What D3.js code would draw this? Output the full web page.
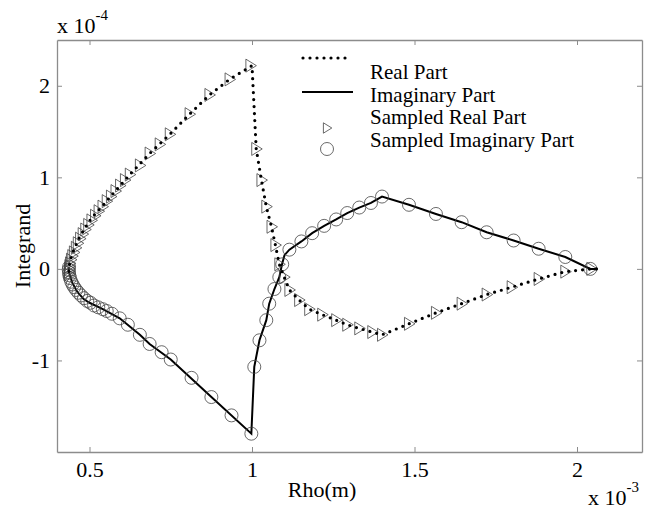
<!DOCTYPE html>
<html>
<head>
<meta charset="utf-8">
<script src="https://cdn.jsdelivr.net/npm/d3@7"></script>
<style>
  body { margin: 0; background: #fff; }
  svg text { font-family: "Liberation Serif", "Times New Roman", serif; fill: #000; }
</style>
</head>
<body>
<div id="chart"></div>
<script>
// Rho in units of 1e-3 m, integrand in units of 1e-4

// Real part (dotted line), vertices
const realRho = [2.06, 2.044, 1.964, 1.882, 1.799, 1.722, 1.645, 1.566, 1.483, 1.40,
  1.37, 1.33, 1.293, 1.259, 1.216, 1.176, 1.145, 1.115, 1.099, 1.084, 1.072, 1.06,
  1.044, 1.029, 1.013, 1.0, 0.931, 0.869, 0.808, 0.747, 0.685, 0.624, 0.572, 0.538,
  0.505, 0.485, 0.467, 0.452, 0.441, 0.436, 0.437];
const realVal = [0.0, 0.0, -0.03, -0.11, -0.20, -0.28, -0.38, -0.48, -0.60, -0.72,
  -0.69, -0.65, -0.61, -0.56, -0.50, -0.44, -0.34, -0.23, -0.09, 0.05, 0.26, 0.46,
  0.68, 0.97, 1.31, 2.22, 2.07, 1.90, 1.69, 1.47, 1.26, 1.03, 0.82, 0.68,
  0.55, 0.44, 0.33, 0.21, 0.10, 0.0, -0.05];

// Imaginary part (solid line)
const imagRho = [2.06, 2.041, 1.964, 1.882, 1.805, 1.722, 1.645, 1.566, 1.483, 1.40,
  1.366, 1.33, 1.293, 1.259, 1.222, 1.185, 1.152, 1.115, 1.10, 1.093, 1.084, 1.069,
  1.053, 1.044, 1.023, 1.007, 0.998, 0.875, 0.75, 0.685, 0.655, 0.593, 0.541, 0.50,
  0.482, 0.462, 0.447, 0.438, 0.436];
const imagVal = [0.0, 0.0, 0.13, 0.22, 0.31, 0.40, 0.51, 0.60, 0.70, 0.79,
  0.72, 0.67, 0.61, 0.54, 0.47, 0.39, 0.30, 0.21, 0.15, 0.06, -0.09, -0.22,
  -0.38, -0.56, -0.78, -1.07, -1.80, -1.40, -0.99, -0.82, -0.72, -0.54, -0.44, -0.37,
  -0.33, -0.25, -0.15, -0.05, 0.02];

// Sampled real part (triangles)
const sampRealRho = [2.044, 1.964, 1.882, 1.799, 1.722, 1.645, 1.566, 1.483, 1.40, 1.37,
  1.33, 1.293, 1.259, 1.216, 1.176, 1.145, 1.115, 1.099, 1.084, 1.072, 1.06, 1.044,
  1.029, 1.013, 0.995, 0.931, 0.869, 0.808, 0.747, 0.716, 0.685, 0.655, 0.624, 0.609,
  0.594, 0.580, 0.566, 0.553, 0.540, 0.528, 0.517, 0.506, 0.496, 0.487, 0.479, 0.471,
  0.464, 0.458, 0.452, 0.447, 0.443, 0.440, 0.438, 0.437, 0.436, 0.437];
const sampRealVal = [0.0, -0.03, -0.11, -0.20, -0.28, -0.38, -0.48, -0.60, -0.72, -0.69,
  -0.65, -0.61, -0.56, -0.50, -0.44, -0.34, -0.23, -0.09, 0.05, 0.26, 0.46, 0.68,
  0.97, 1.31, 2.22, 2.07, 1.90, 1.69, 1.47, 1.36, 1.26, 1.13, 1.03, 0.97,
  0.91, 0.85, 0.79, 0.74, 0.68, 0.63, 0.58, 0.53, 0.48, 0.43, 0.38, 0.33,
  0.28, 0.23, 0.18, 0.14, 0.10, 0.06, 0.03, 0.0, -0.03, -0.06];

// Sampled imaginary part (circles)
const sampImagRho = [2.041, 1.964, 1.882, 1.805, 1.722, 1.645, 1.566, 1.483, 1.40, 1.366,
  1.33, 1.293, 1.259, 1.222, 1.185, 1.152, 1.115, 1.093, 1.084, 1.069, 1.053, 1.044,
  1.023, 1.007, 0.998, 0.937, 0.875, 0.814, 0.750, 0.722, 0.685, 0.655, 0.618, 0.593,
  0.569, 0.553, 0.541, 0.527, 0.514, 0.503, 0.493, 0.483, 0.474, 0.466, 0.459, 0.453,
  0.448, 0.444, 0.440, 0.438, 0.437, 0.436, 0.437];
const sampImagVal = [0.0, 0.13, 0.22, 0.31, 0.40, 0.51, 0.60, 0.70, 0.79, 0.72,
  0.67, 0.61, 0.54, 0.47, 0.39, 0.30, 0.21, 0.05, -0.09, -0.22, -0.38, -0.56,
  -0.78, -1.07, -1.80, -1.60, -1.40, -1.19, -0.99, -0.91, -0.82, -0.72, -0.61, -0.54,
  -0.49, -0.46, -0.44, -0.42, -0.40, -0.37, -0.35, -0.32, -0.29, -0.26, -0.23, -0.20,
  -0.17, -0.14, -0.10, -0.07, -0.04, -0.01, 0.02];

const xTicks = [0.5, 1, 1.5, 2];
const yTicks = [-1, 0, 1, 2];
const legendLabels = ["Real Part", "Imaginary Part", "Sampled Real Part", "Sampled Imaginary Part"];

const width = 649, height = 509;
const margin = {top: 40, right: 7, bottom: 57, left: 57};
const fs = 22;

const x = d3.scaleLinear().domain([0.4, 2.2]).range([margin.left, width - margin.right]);
const y = d3.scaleLinear().domain([-2, 2.5]).range([height - margin.bottom, margin.top]);

const svg = d3.select("#chart").append("svg")
  .attr("width", width)
  .attr("height", height);

const axisColor = "#8c8c8c";

// axes (ticks pointing inward, MATLAB style)
function styleAxis(g) {
  g.select(".domain").attr("stroke", axisColor).attr("stroke-width", 1.3);
  g.selectAll(".tick line").attr("stroke", axisColor);
  g.selectAll(".tick text").attr("font-size", fs).attr("font-family", "Liberation Serif").attr("fill", "#000");
}
const fmt = d => String(d);

svg.append("g")
  .attr("transform", `translate(0,${y(-2)})`)
  .call(d3.axisBottom(x).tickValues(xTicks).tickFormat(fmt).tickSize(-5).tickSizeOuter(0).tickPadding(9))
  .call(styleAxis);
svg.append("g")
  .attr("transform", `translate(0,${y(2.5)})`)
  .call(d3.axisTop(x).tickValues(xTicks).tickFormat("").tickSize(-5).tickSizeOuter(0))
  .call(styleAxis);
svg.append("g")
  .attr("transform", `translate(${x(0.4)},0)`)
  .call(d3.axisLeft(y).tickValues(yTicks).tickFormat(fmt).tickSize(-5).tickSizeOuter(0).tickPadding(7))
  .call(styleAxis);
svg.append("g")
  .attr("transform", `translate(${x(2.2)},0)`)
  .call(d3.axisRight(y).tickValues(yTicks).tickFormat("").tickSize(-5).tickSizeOuter(0))
  .call(styleAxis);

// axis labels
svg.append("text")
  .attr("x", 322)
  .attr("y", 497)
  .attr("text-anchor", "middle")
  .attr("font-size", fs)
  .text("Rho(m)");
svg.append("text")
  .attr("transform", `translate(30,${y(0.25)}) rotate(-90)`)
  .attr("text-anchor", "middle")
  .attr("font-size", fs)
  .text("Integrand");

// exponent labels
const expTop = svg.append("text").attr("x", 57).attr("y", 33).attr("font-size", fs);
expTop.append("tspan").text("x 10");
expTop.append("tspan").attr("dy", -13).attr("font-size", 15).text("-4");
const expBot = svg.append("text").attr("x", 588).attr("y", 505).attr("font-size", fs);
expBot.append("tspan").text("x 10");
expBot.append("tspan").attr("dy", -13).attr("font-size", 15).text("-3");

// lines
const line = d3.line().x(d => x(d[0])).y(d => y(d[1]));
const realPts = realRho.map((r, i) => [r, realVal[i]]);
const imagPts = imagRho.map((r, i) => [r, imagVal[i]]);

svg.append("path")
  .datum(imagPts)
  .attr("fill", "none")
  .attr("stroke", "#000")
  .attr("stroke-width", 2)
  .attr("d", line);

// markers
const tri = d3.symbol().type({
  draw(ctx, s) { // right-pointing triangle
    ctx.moveTo(-4.5, -6.5); ctx.lineTo(6, 0); ctx.lineTo(-4.5, 6.5); ctx.closePath();
  }
});
svg.append("g").selectAll("circle")
  .data(sampImagRho.map((r, i) => [r, sampImagVal[i]]))
  .join("circle")
  .attr("cx", d => x(d[0]))
  .attr("cy", d => y(d[1]))
  .attr("r", 6.5)
  .attr("fill", "none")
  .attr("stroke", "#444")
  .attr("stroke-width", 0.8);
svg.append("g").selectAll("path")
  .data(sampRealRho.map((r, i) => [r, sampRealVal[i]]))
  .join("path")
  .attr("transform", d => `translate(${x(d[0])},${y(d[1])})`)
  .attr("d", tri())
  .attr("fill", "none")
  .attr("stroke", "#444")
  .attr("stroke-width", 0.8);

svg.append("path")
  .datum(realPts)
  .attr("fill", "none")
  .attr("stroke", "#000")
  .attr("stroke-width", 3.2)
  .attr("stroke-linecap", "round")
  .attr("stroke-dasharray", "0 7")
  .attr("d", line);

// legend
const lg = svg.append("g");
lg.append("line").attr("x1", 303).attr("x2", 348).attr("y1", 58).attr("y2", 58)
  .attr("stroke", "#000").attr("stroke-width", 3.2)
  .attr("stroke-linecap", "round").attr("stroke-dasharray", "0 7");
lg.append("line").attr("x1", 302).attr("x2", 353).attr("y1", 92).attr("y2", 92)
  .attr("stroke", "#000").attr("stroke-width", 2);
lg.append("path").attr("transform", "translate(327,128) scale(0.8)").attr("d", tri())
  .attr("fill", "none").attr("stroke", "#444").attr("stroke-width", 1);
lg.append("circle").attr("cx", 327).attr("cy", 149).attr("r", 6.5)
  .attr("fill", "none").attr("stroke", "#444").attr("stroke-width", 0.8);
lg.selectAll("text.leg")
  .data(legendLabels)
  .join("text")
  .attr("class", "leg")
  .attr("x", 370)
  .attr("y", (d, i) => 79 + i * 22.7)
  .attr("font-size", 21)
  .text(d => d);
</script>
</body>
</html>
